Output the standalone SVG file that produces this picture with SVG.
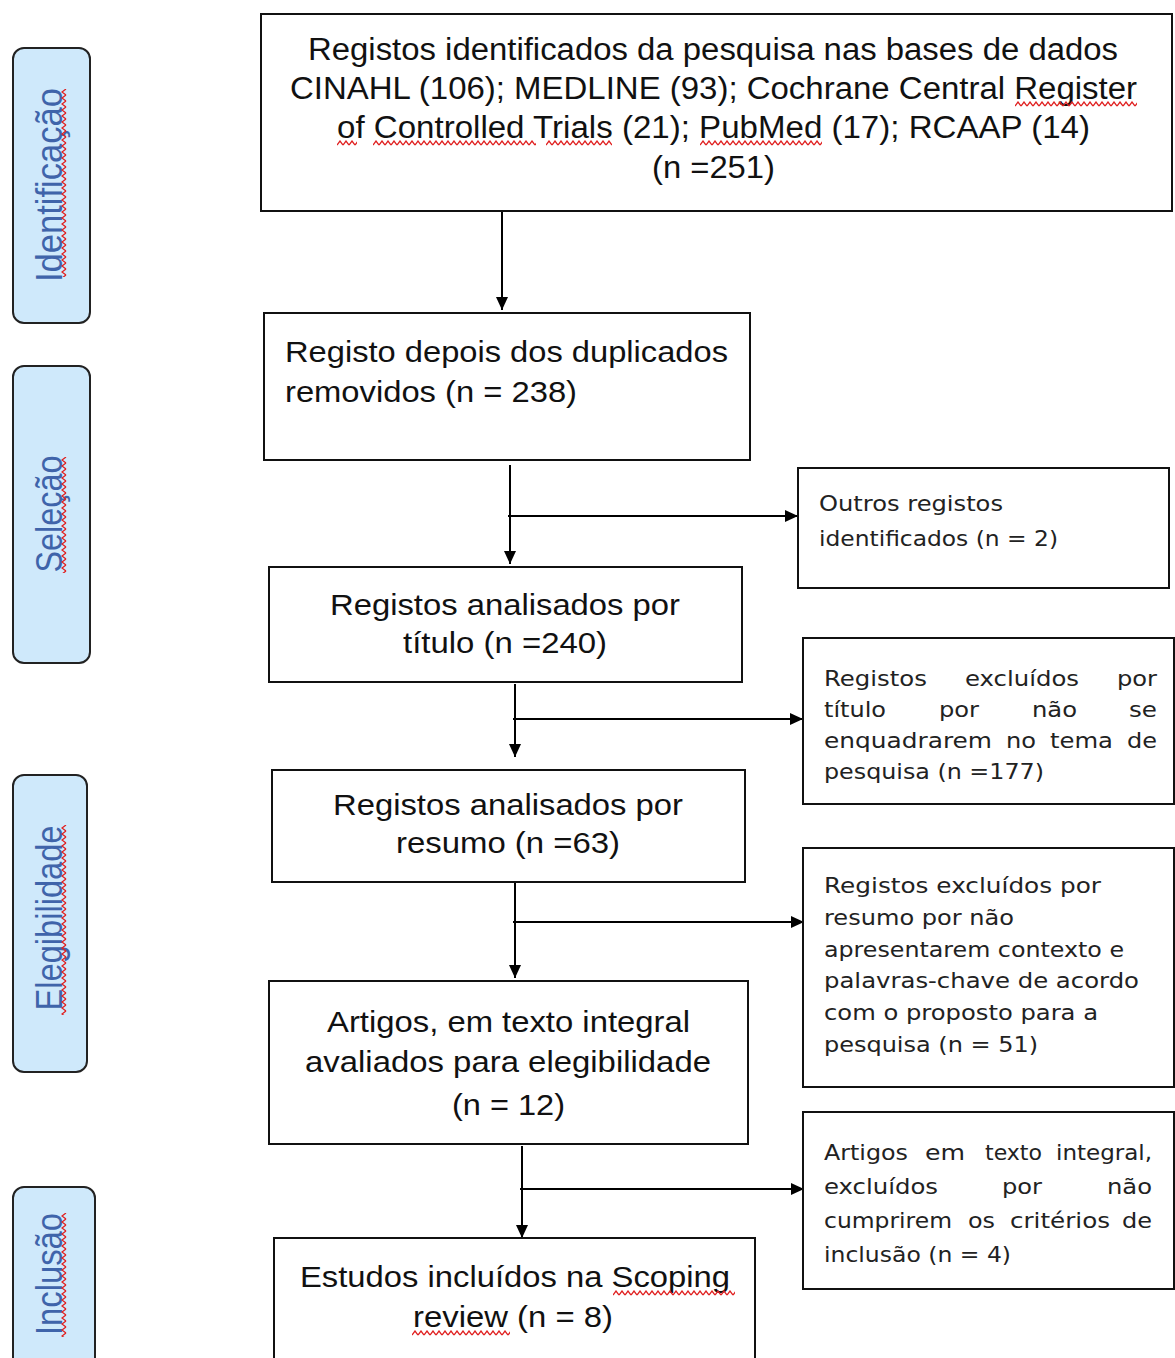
<svg xmlns="http://www.w3.org/2000/svg" width="1175" height="1358" viewBox="0 0 1175 1358">
<style>
.box{fill:#fff;stroke:#111;stroke-width:2}
.side{fill:#cfe9fb;stroke:#222;stroke-width:2}
.t{font-family:"Liberation Sans",Arial,sans-serif;font-size:29px;fill:#111}
.t1{font-family:"Liberation Sans",Arial,sans-serif;font-size:31px;fill:#111}
.s{font-family:"DejaVu Sans","Liberation Sans",sans-serif;font-size:21px;fill:#222}
.lab{font-family:"Liberation Sans",Arial,sans-serif;font-size:36px;fill:#3f64aa;text-anchor:middle}
.con{stroke:#000;stroke-width:2;fill:none}
.arr{marker-end:url(#ah)}
.sqh{fill:url(#wh)}
.sqv{fill:url(#wv)}
</style>
<defs>
<marker id="ah" markerUnits="userSpaceOnUse" markerWidth="14" markerHeight="14" refX="13" refY="6" orient="auto">
<path d="M0 0 L13 6 L0 12 z" fill="#000"/>
</marker>
<pattern id="wh" width="6" height="6" patternUnits="userSpaceOnUse">
<path d="M0 5 L3 1 L6 5" fill="none" stroke="#e02020" stroke-width="1.3"/>
</pattern>
<pattern id="wv" width="6" height="6" patternUnits="userSpaceOnUse">
<path d="M5 0 L1 3 L5 6" fill="none" stroke="#e02020" stroke-width="1.3"/>
</pattern>
</defs>
<rect width="1175" height="1358" fill="#fff"/>

<g id="label-identificacao">
<rect class="side" x="13" y="48" width="77" height="275" rx="11"/>
<text class="lab" transform="translate(62,185) rotate(-90)" textLength="194" lengthAdjust="spacingAndGlyphs">Identificação</text>
<rect class="sqv" transform="translate(61,89)" width="6" height="188"/>
</g>
<g id="label-selecao">
<rect class="side" x="13" y="366" width="77" height="297" rx="11"/>
<text class="lab" transform="translate(62,514) rotate(-90)" textLength="117" lengthAdjust="spacingAndGlyphs">Seleção</text>
<rect class="sqv" transform="translate(61,457)" width="6" height="116"/>
</g>
<g id="label-elegibilidade">
<rect class="side" x="13" y="775" width="74" height="297" rx="11"/>
<text class="lab" transform="translate(62,918) rotate(-90)" textLength="185" lengthAdjust="spacingAndGlyphs">Elegibilidade</text>
<rect class="sqv" transform="translate(61,825)" width="6" height="190"/>
</g>
<g id="label-inclusao">
<rect class="side" x="13" y="1187" width="82" height="200" rx="11"/>
<text class="lab" transform="translate(62,1274) rotate(-90)" textLength="122" lengthAdjust="spacingAndGlyphs">Inclusão</text>
<rect class="sqv" transform="translate(61,1213)" width="6" height="124"/>
</g>

<g id="connectors">
<path class="con arr" d="M502 211 V310"/>
<path class="con arr" d="M510 465 V564"/>
<path class="con arr" d="M508 516 H798"/>
<path class="con arr" d="M515 684 V757"/>
<path class="con arr" d="M513 719 H803"/>
<path class="con arr" d="M515 882 V978"/>
<path class="con arr" d="M513 922 H804"/>
<path class="con arr" d="M522 1146 V1238"/>
<path class="con arr" d="M520 1189 H804"/>
</g>

<g id="n-identificados">
<rect class="box" x="261" y="14" width="911" height="197"/>
<text class="t1" x="308" y="60" textLength="810" lengthAdjust="spacingAndGlyphs">Registos identificados da pesquisa nas bases de dados</text>
<text class="t1" x="290" y="99" textLength="847" lengthAdjust="spacingAndGlyphs">CINAHL (106); MEDLINE (93); Cochrane Central Register</text>
<text class="t1" x="337" y="138" textLength="753" lengthAdjust="spacingAndGlyphs">of Controlled Trials (21); PubMed (17); RCAAP (14)</text>
<text class="t1" x="652" y="178" textLength="123" lengthAdjust="spacingAndGlyphs">(n =251)</text>
<rect class="sqh" transform="translate(1015,101)" width="122" height="6"/>
<rect class="sqh" transform="translate(337,140)" width="20" height="6"/>
<rect class="sqh" transform="translate(373,140)" width="163" height="6"/>
<rect class="sqh" transform="translate(546,140)" width="66" height="6"/>
<rect class="sqh" transform="translate(700,140)" width="122" height="6"/>
</g>

<g id="n-duplicados">
<rect class="box" x="264" y="313" width="486" height="147"/>
<text class="t" x="285" y="362" textLength="443" lengthAdjust="spacingAndGlyphs">Registo depois dos duplicados</text>
<text class="t" x="285" y="402" textLength="292" lengthAdjust="spacingAndGlyphs">removidos (n = 238)</text>
</g>

<g id="n-outros">
<rect class="box" x="798" y="468" width="371" height="120"/>
<text class="s" x="819" y="511" textLength="184" lengthAdjust="spacingAndGlyphs">Outros registos</text>
<text class="s" x="819" y="546" textLength="239" lengthAdjust="spacingAndGlyphs">identificados (n = 2)</text>
</g>

<g id="n-titulo">
<rect class="box" x="269" y="567" width="473" height="115"/>
<text class="t" x="330" y="615" textLength="350" lengthAdjust="spacingAndGlyphs">Registos analisados por</text>
<text class="t" x="403" y="653" textLength="204" lengthAdjust="spacingAndGlyphs">título (n =240)</text>
</g>

<g id="n-excl-titulo">
<rect class="box" x="803" y="638" width="371" height="166"/>
<text class="s" x="824" y="686" textLength="103" lengthAdjust="spacingAndGlyphs">Registos</text>
<text class="s" x="965" y="686" textLength="114" lengthAdjust="spacingAndGlyphs">excluídos</text>
<text class="s" x="1117" y="686" textLength="40" lengthAdjust="spacingAndGlyphs">por</text>
<text class="s" x="824" y="717" textLength="62" lengthAdjust="spacingAndGlyphs">título</text>
<text class="s" x="939" y="717" textLength="40" lengthAdjust="spacingAndGlyphs">por</text>
<text class="s" x="1032" y="717" textLength="45" lengthAdjust="spacingAndGlyphs">não</text>
<text class="s" x="1129" y="717" textLength="28" lengthAdjust="spacingAndGlyphs">se</text>
<text class="s" x="824" y="748" textLength="168" lengthAdjust="spacingAndGlyphs">enquadrarem</text>
<text class="s" x="1006" y="748" textLength="30" lengthAdjust="spacingAndGlyphs">no</text>
<text class="s" x="1050" y="748" textLength="63" lengthAdjust="spacingAndGlyphs">tema</text>
<text class="s" x="1127" y="748" textLength="30" lengthAdjust="spacingAndGlyphs">de</text>
<text class="s" x="824" y="779" textLength="220" lengthAdjust="spacingAndGlyphs">pesquisa (n =177)</text>
</g>

<g id="n-resumo">
<rect class="box" x="272" y="770" width="473" height="112"/>
<text class="t" x="333" y="815" textLength="350" lengthAdjust="spacingAndGlyphs">Registos analisados por</text>
<text class="t" x="396" y="853" textLength="224" lengthAdjust="spacingAndGlyphs">resumo (n =63)</text>
</g>

<g id="n-excl-resumo">
<rect class="box" x="803" y="848" width="371" height="239"/>
<text class="s" x="824" y="893" textLength="277" lengthAdjust="spacingAndGlyphs">Registos excluídos por</text>
<text class="s" x="824" y="925" textLength="190" lengthAdjust="spacingAndGlyphs">resumo por não</text>
<text class="s" x="824" y="957" textLength="300" lengthAdjust="spacingAndGlyphs">apresentarem contexto e</text>
<text class="s" x="824" y="988" textLength="315" lengthAdjust="spacingAndGlyphs">palavras-chave de acordo</text>
<text class="s" x="824" y="1020" textLength="274" lengthAdjust="spacingAndGlyphs">com o proposto para a</text>
<text class="s" x="824" y="1052" textLength="214" lengthAdjust="spacingAndGlyphs">pesquisa (n = 51)</text>
</g>

<g id="n-integral">
<rect class="box" x="269" y="981" width="479" height="163"/>
<text class="t" x="327" y="1032" textLength="363" lengthAdjust="spacingAndGlyphs">Artigos, em texto integral</text>
<text class="t" x="305" y="1072" textLength="406" lengthAdjust="spacingAndGlyphs">avaliados para elegibilidade</text>
<text class="t" x="452" y="1115" textLength="113" lengthAdjust="spacingAndGlyphs">(n = 12)</text>
</g>

<g id="n-excl-integral">
<rect class="box" x="803" y="1112" width="371" height="177"/>
<text class="s" x="824" y="1160" textLength="84" lengthAdjust="spacingAndGlyphs">Artigos</text>
<text class="s" x="925" y="1160" textLength="40" lengthAdjust="spacingAndGlyphs">em</text>
<text class="s" x="985" y="1160" textLength="57" lengthAdjust="spacingAndGlyphs">texto</text>
<text class="s" x="1056" y="1160" textLength="96" lengthAdjust="spacingAndGlyphs">integral,</text>
<text class="s" x="824" y="1194" textLength="114" lengthAdjust="spacingAndGlyphs">excluídos</text>
<text class="s" x="1002" y="1194" textLength="40" lengthAdjust="spacingAndGlyphs">por</text>
<text class="s" x="1107" y="1194" textLength="45" lengthAdjust="spacingAndGlyphs">não</text>
<text class="s" x="824" y="1228" textLength="128" lengthAdjust="spacingAndGlyphs">cumprirem</text>
<text class="s" x="968" y="1228" textLength="27" lengthAdjust="spacingAndGlyphs">os</text>
<text class="s" x="1010" y="1228" textLength="100" lengthAdjust="spacingAndGlyphs">critérios</text>
<text class="s" x="1122" y="1228" textLength="30" lengthAdjust="spacingAndGlyphs">de</text>
<text class="s" x="824" y="1262" textLength="187" lengthAdjust="spacingAndGlyphs">inclusão (n = 4)</text>
</g>

<g id="n-incluidos">
<rect class="box" x="274" y="1238" width="481" height="140"/>
<text class="t" x="300" y="1287" textLength="430" lengthAdjust="spacingAndGlyphs">Estudos incluídos na Scoping</text>
<text class="t" x="413" y="1327" textLength="200" lengthAdjust="spacingAndGlyphs">review (n = 8)</text>
<rect class="sqh" transform="translate(613,1290)" width="122" height="6"/>
<rect class="sqh" transform="translate(412,1330)" width="98" height="6"/>
</g>
</svg>
